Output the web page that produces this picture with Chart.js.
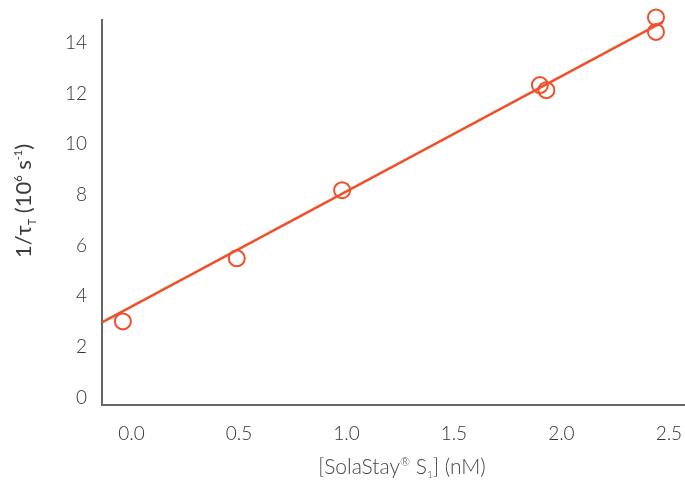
<!DOCTYPE html>
<html><head><meta charset="utf-8">
<script src="https://cdn.jsdelivr.net/npm/chart.js@4/dist/chart.umd.min.js"></script>
<style>html,body{margin:0;padding:0;background:#fff}#wrap{width:685px;height:483px}</style>
</head><body><div id="wrap"><canvas id="c"></canvas></div>
<script>
const pointX = [-0.04, 0.49, 0.98, 1.90, 1.93, 2.44, 2.44];
const pointY = [3.0, 5.49, 8.18, 12.33, 12.13, 15.0, 14.43];
const fitX = [-0.137, 2.47];
const fitY = [2.96, 14.82];
const xTicks = [0.0, 0.5, 1.0, 1.5, 2.0, 2.5];
const yTicks = [0, 2, 4, 6, 8, 10, 12, 14];

const COLOR = '#F0502A';
const FONT = 'Lato, "Noto Sans", sans-serif';

const titles = {
  id: 'titles',
  afterDraw(chart) {
    const ctx = chart.ctx;
    ctx.save();
    ctx.fillStyle = '#444';
    const draw = (list, cx, cy, weight) => {
      let w = 0;
      list.forEach(p => { ctx.font = weight + ' ' + p.s + 'px ' + FONT; w += ctx.measureText(p.t).width; });
      let x = cx - w / 2;
      ctx.textBaseline = 'alphabetic';
      ctx.textAlign = 'left';
      list.forEach(p => { ctx.font = weight + ' ' + p.s + 'px ' + FONT; ctx.fillText(p.t, x, cy + p.dy); x += ctx.measureText(p.t).width; });
    };
    const parts = [
      {t: '[SolaStay', s: 21, dy: 0},
      {t: '®', s: 12, dy: -8},
      {t: ' S', s: 21, dy: 0},
      {t: '1', s: 10, dy: 4},
      {t: '] (nM)', s: 21, dy: 0}
    ];
    draw(parts, 402, 474, '300');
    ctx.fillStyle = '#3a3a3a';
    ctx.save();
    ctx.translate(31, 201);
    ctx.rotate(-Math.PI / 2);
    const yparts = [
      {t: '1/τ', s: 22, dy: 0},
      {t: 'T', s: 11, dy: 5},
      {t: ' (10', s: 22, dy: 0},
      {t: '6', s: 11, dy: -9},
      {t: ' s', s: 22, dy: 0},
      {t: '-1', s: 11, dy: -9},
      {t: ')', s: 22, dy: 0}
    ];
    draw(yparts, 0, 0, '400');
    ctx.restore();
    ctx.restore();
  }
};

new Chart(document.getElementById('c'), {
  type: 'scatter',
  data: {
    datasets: [
      {
        type: 'line',
        data: fitX.map((x, i) => ({x, y: fitY[i]})),
        borderColor: COLOR,
        borderWidth: 2.5,
        pointRadius: 0,
        fill: false,
        clip: false
      },
      {
        data: pointX.map((x, i) => ({x, y: pointY[i]})),
        borderColor: COLOR,
        backgroundColor: 'rgba(0,0,0,0)',
        borderWidth: 2,
        pointRadius: 8,
        pointHoverRadius: 8,
        clip: false
      }
    ]
  },
  plugins: [titles],
  options: {
    responsive: true,
    maintainAspectRatio: false,
    animation: false,
    layout: {autoPadding: false, padding: {top: 20, right: 0, left: 0, bottom: 0}},
    plugins: {legend: {display: false}, tooltip: {enabled: false}},
    scales: {
      x: {
        type: 'linear',
        min: -0.137, max: 2.575,
        afterBuildTicks(s) { s.ticks = xTicks.map(v => ({value: v})); },
        afterFit(s) { s.height = 78; s.paddingLeft = 0; s.paddingRight = 0; },
        grid: {display: false, drawTicks: false},
        border: {display: true, color: '#666', width: 2},
        ticks: {color: '#333', padding: 17, font: {family: FONT, size: 19, weight: '300'}, maxRotation: 0,
          callback: v => Number(v).toFixed(1)}
      },
      y: {
        type: 'linear',
        min: -0.3, max: 14.9,
        afterBuildTicks(s) { s.ticks = yTicks.map(v => ({value: v})); },
        afterFit(s) { s.width = 102; s.paddingTop = 0; s.paddingBottom = 0; },
        grid: {display: false, drawTicks: false},
        border: {display: true, color: '#666', width: 2},
        ticks: {color: '#333', padding: 15, font: {family: FONT, size: 19, weight: '300'}}
      }
    }
  }
});
</script></body></html>
